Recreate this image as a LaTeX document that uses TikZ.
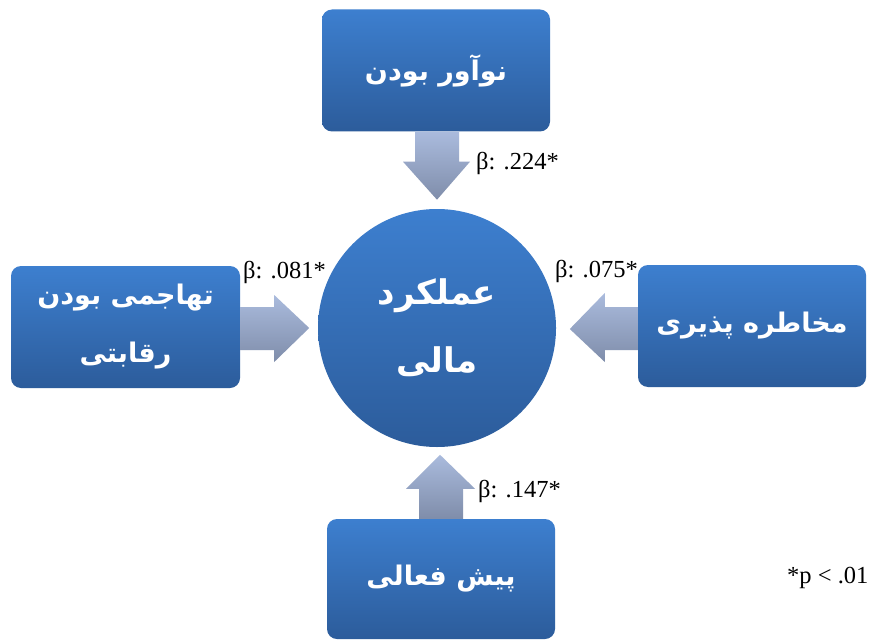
\documentclass[tikz,border=0pt]{standalone}
\usepackage{fontspec}
\setmainfont{Liberation Serif}
\newfontfamily\arabicfont[Script=Arabic]{DejaVu Sans}
\TeXXeTstate=1
\usetikzlibrary{calc}
\definecolor{boxtop}{HTML}{3D7FCF}
\definecolor{boxbot}{HTML}{2C5C9B}
\definecolor{arrtop}{HTML}{AABBDD}
\definecolor{arrbot}{HTML}{7F8DAA}
\tikzset{
  factor/.style={rectangle, rounded corners=10pt, top color=boxtop, bottom color=boxbot,
    minimum width=228pt, minimum height=122pt, text=white, inner sep=0pt, align=center,
    font=\arabicfont\bfseries\fontsize{27}{58}\selectfont},
  hub/.style={circle, top color=boxtop, bottom color=boxbot, minimum size=238pt,
    text=white, inner sep=0pt, align=center,
    font=\arabicfont\bfseries\fontsize{34}{68}\selectfont},
  blockarrow/.style={top color=arrtop, bottom color=arrbot, draw=none},
  betalabel/.style={font=\fontsize{24.5}{28}\selectfont, anchor=west, inner sep=0pt}
}
\begin{document}
\begin{tikzpicture}[x=1pt,y=-1pt]
\useasboundingbox (0,0) rectangle (882,639);
\fill[white] (0,0) rectangle (882,639);
% nodes
\node[factor] (top) at (436,70.5) {\beginR نوآور بودن\endR};
\node[factor, minimum width=229pt] (left) at (125.5,327) {\beginR تهاجمی بودن\endR\\\beginR رقابتی\endR};
\node[factor] (right) at (752,326) {\beginR مخاطره پذیری\endR};
\node[factor, minimum height=120pt] (bottom) at (441,579) {\beginR پیش فعالی\endR};
\node[hub] (hub) at (437,328) {\beginR عملکرد\endR\\\beginR مالی\endR};
% block arrows
\path[blockarrow] ($(top.south)+(-21,0)$) -- ($(top.south)+(23,0)$) -- ($(top.south)+(23,30)$)
  -- ($(top.south)+(34,30)$) -- ($(top.south)+(1,68)$) -- ($(top.south)+(-33,30)$)
  -- ($(top.south)+(-21,30)$) -- cycle;
\path[blockarrow] ($(bottom.north)+(-22,0)$) -- ($(bottom.north)+(22,0)$) -- ($(bottom.north)+(22,-30)$)
  -- ($(bottom.north)+(34,-30)$) -- ($(bottom.north)+(-1,-64)$) -- ($(bottom.north)+(-35,-30)$)
  -- ($(bottom.north)+(-22,-30)$) -- cycle;
\path[blockarrow] ($(left.east)+(0,-20)$) -- ($(left.east)+(34,-20)$) -- ($(left.east)+(34,-32)$)
  -- ($(left.east)+(69,1)$) -- ($(left.east)+(34,35)$) -- ($(left.east)+(34,23)$)
  -- ($(left.east)+(0,23)$) -- cycle;
\path[blockarrow] ($(right.west)+(0,-19)$) -- ($(right.west)+(-33,-19)$) -- ($(right.west)+(-33,-33)$)
  -- ($(right.west)+(-68,3)$) -- ($(right.west)+(-33,36)$) -- ($(right.west)+(-33,24)$)
  -- ($(right.west)+(0,24)$) -- cycle;
% labels
\node[betalabel] (b1) at (476,163) {β: .224*};
\node[betalabel] (b2) at (243,272) {β: .081*};
\node[betalabel] (b3) at (555,271) {β: .075*};
\node[betalabel] (b4) at (478,491) {β: .147*};
\node[betalabel] (sig) at (787,578) {*p < .01};
\end{tikzpicture}
\end{document}
